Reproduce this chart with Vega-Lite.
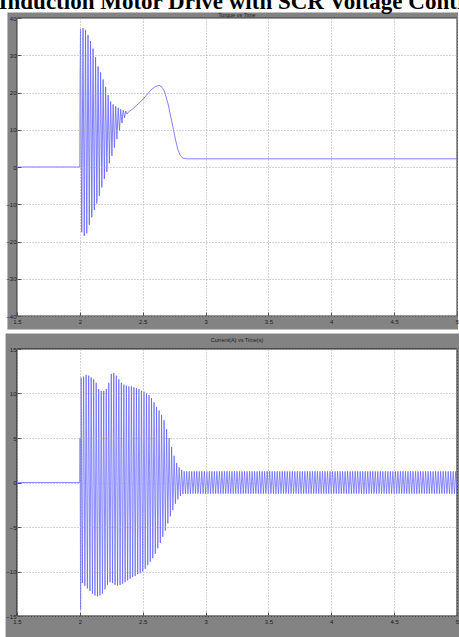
{
"$schema": "https://vega.github.io/schema/vega-lite/v6.json",
"background": "white",
"padding": {"left": -2, "top": -10, "right": 0, "bottom": 0},
"title": {"text": "Induction Motor Drive with SCR Voltage Control", "font": "Liberation Serif", "fontWeight": "bold", "fontSize": 23, "color": "#000000", "anchor": "start", "baseline": "alphabetic", "offset": 3, "dx": -7, "dy": 22.5},
"spacing": 33,
"bounds": "flush",
"config": {
  "view": {"stroke": null},
  "axis": {"labelFont": "Liberation Sans", "labelFontSize": 6, "labelColor": "#1e1e1e", "gridColor": "#a8a8a8", "gridDash": [1, 2], "gridWidth": 1, "tickColor": "#555555", "domain": false, "labelFlush": false, "title": null},
  "title": {"font": "Liberation Sans", "fontWeight": "normal", "fontSize": 5.5, "color": "#222222"}
},
"vconcat": [
{
  "width": 440, "height": 298,
  "title": {"text": "Torque vs Time", "offset": -3.5, "dy": 6.5, "baseline": "alphabetic", "anchor": "middle", "frame": "group"},
  "encoding": {
    "x": {"field": "t", "type": "quantitative", "scale": {"domain": [1.5, 5], "nice": false, "zero": false},
          "axis": {"values": [1.5, 2, 2.5, 3, 3.5, 4, 4.5, 5], "format": "~g", "grid": true, "tickSize": -4, "labelPadding": 6, "zindex": 1}},
    "y": {"field": "v", "type": "quantitative", "scale": {"domain": [-40, 40], "nice": false, "zero": false},
          "axis": {"values": [-40, -30, -20, -10, 0, 10, 20, 30, 40], "format": "d", "grid": true, "tickSize": -4, "labelPadding": 5, "zindex": 1}}
  },
  "layer": [
    {"data": {"values": [{"t": 1.424, "t2": 5.008, "v": -43.6, "v2": 41.48}]},
     "mark": {"type": "rect", "fill": "#838383", "clip": false},
     "encoding": {"x2": {"field": "t2"}, "y2": {"field": "v2"}}},
    {"data": {"values": [{"t": 1.5, "t2": 5, "v": -40, "v2": 40}]},
     "mark": {"type": "rect", "fill": "#ffffff", "stroke": "#333333", "strokeWidth": 1},
     "encoding": {"x2": {"field": "t2"}, "y2": {"field": "v2"}}},
    {"data": {"values": [
      {"t":1.5,"v":0},{"t":2.0,"v":0},{"t":2.002,"v":24},
      {"t":2.005,"v":37},{"t":2.015,"v":-17.5},{"t":2.025,"v":37.3},{"t":2.035,"v":-18.5},
      {"t":2.045,"v":36.8},{"t":2.055,"v":-17.8},{"t":2.065,"v":35.4},{"t":2.075,"v":-15.5},
      {"t":2.085,"v":33.8},{"t":2.095,"v":-13.5},{"t":2.105,"v":31.8},{"t":2.115,"v":-11.5},
      {"t":2.125,"v":29.5},{"t":2.135,"v":-9.8},{"t":2.145,"v":27},{"t":2.155,"v":-7.8},
      {"t":2.165,"v":25.4},{"t":2.175,"v":-5.5},{"t":2.185,"v":23.5},{"t":2.195,"v":-3.2},
      {"t":2.205,"v":21.5},{"t":2.215,"v":-1.3},{"t":2.225,"v":19.3},{"t":2.235,"v":1},
      {"t":2.245,"v":17.6},{"t":2.255,"v":3},{"t":2.265,"v":16.8},{"t":2.275,"v":5.2},
      {"t":2.285,"v":16.3},{"t":2.295,"v":7.5},{"t":2.305,"v":15.9},{"t":2.315,"v":9.8},
      {"t":2.325,"v":15.5},{"t":2.335,"v":11.8},{"t":2.345,"v":15.2},{"t":2.355,"v":13.2},
      {"t":2.365,"v":15},{"t":2.375,"v":14.2},
      {"t":2.39,"v":14.9},{"t":2.42,"v":15.6},{"t":2.45,"v":16.5},{"t":2.48,"v":17.4},
      {"t":2.51,"v":18.5},{"t":2.54,"v":19.7},{"t":2.57,"v":20.8},{"t":2.6,"v":21.6},
      {"t":2.63,"v":21.9},{"t":2.65,"v":21.6},{"t":2.67,"v":20.5},{"t":2.7,"v":17.2},
      {"t":2.72,"v":14},{"t":2.74,"v":10.8},{"t":2.76,"v":7.5},{"t":2.78,"v":4.6},
      {"t":2.8,"v":3},{"t":2.82,"v":2.4},{"t":2.85,"v":2.2},{"t":5.0,"v":2.2}
    ]},
     "mark": {"type": "line", "stroke": "#6262ff", "strokeWidth": 0.8, "clip": true}}
  ]
},
{
  "width": 440, "height": 267,
  "title": {"text": "Current(A) vs Time(s)", "offset": -7, "dy": 7, "baseline": "alphabetic", "anchor": "middle", "frame": "group"},
  "encoding": {
    "x": {"field": "t", "type": "quantitative", "scale": {"domain": [1.5, 5], "nice": false, "zero": false},
          "axis": {"values": [1.5, 2, 2.5, 3, 3.5, 4, 4.5, 5], "format": "~g", "grid": true, "tickSize": -4, "labelPadding": 6, "zindex": 1}},
    "y": {"field": "i", "type": "quantitative", "scale": {"domain": [-15, 15], "nice": false, "zero": false},
          "axis": {"values": [-15, -10, -5, 0, 5, 10, 15], "format": "d", "grid": true, "tickSize": -4, "labelPadding": 5, "zindex": 1}}
  },
  "layer": [
    {"data": {"values": [{"t": 1.409, "t2": 5.03, "i": -17.42, "i2": 16.74}]},
     "mark": {"type": "rect", "fill": "#838383", "clip": false},
     "encoding": {"x2": {"field": "t2"}, "y2": {"field": "i2"}}},
    {"data": {"values": [{"t": 1.5, "t2": 5, "i": -15, "i2": 15}]},
     "mark": {"type": "rect", "fill": "#ffffff", "stroke": "#111111", "strokeWidth": 1},
     "encoding": {"x2": {"field": "t2"}, "y2": {"field": "i2"}}},
    {"data": {"values": [
      {"t":1.5,"i":0},{"t":2.0,"i":0},{"t":2.002,"i":5},{"t":2.006,"i":-14.3},
      {"t":2.01,"i":11.8},{"t":2.02,"i":-11.3},{"t":2.03,"i":11.9},{"t":2.04,"i":-11.6},{"t":2.05,"i":12.1},{"t":2.06,"i":-11.9},{"t":2.07,"i":12.0},{"t":2.08,"i":-12.2},{"t":2.09,"i":11.8},{"t":2.1,"i":-12.5},
      {"t":2.11,"i":11.6},{"t":2.12,"i":-12.7},{"t":2.13,"i":11.2},{"t":2.14,"i":-12.8},{"t":2.15,"i":10.5},{"t":2.16,"i":-12.7},{"t":2.17,"i":10.3},{"t":2.18,"i":-12.5},{"t":2.19,"i":10.3},{"t":2.2,"i":-12.0},
      {"t":2.21,"i":10.5},{"t":2.22,"i":-11.5},{"t":2.23,"i":11.2},{"t":2.24,"i":-11.2},{"t":2.25,"i":12.2},{"t":2.26,"i":-11.3},{"t":2.27,"i":12.3},{"t":2.28,"i":-11.5},{"t":2.29,"i":12.0},{"t":2.3,"i":-11.6},
      {"t":2.31,"i":11.6},{"t":2.32,"i":-11.5},{"t":2.33,"i":11.2},{"t":2.34,"i":-11.4},{"t":2.35,"i":11.0},{"t":2.36,"i":-11.2},{"t":2.37,"i":10.9},{"t":2.38,"i":-11.0},{"t":2.39,"i":10.8},{"t":2.4,"i":-10.8},
      {"t":2.41,"i":10.8},{"t":2.42,"i":-10.6},{"t":2.43,"i":10.7},{"t":2.44,"i":-10.5},{"t":2.45,"i":10.6},{"t":2.46,"i":-10.3},{"t":2.47,"i":10.5},{"t":2.48,"i":-10.2},{"t":2.49,"i":10.3},{"t":2.5,"i":-10.0},
      {"t":2.51,"i":10.2},{"t":2.52,"i":-9.7},{"t":2.53,"i":10.0},{"t":2.54,"i":-9.3},{"t":2.55,"i":9.8},{"t":2.56,"i":-8.9},{"t":2.57,"i":9.5},{"t":2.58,"i":-8.5},{"t":2.59,"i":9.0},{"t":2.6,"i":-8.0},
      {"t":2.61,"i":8.5},{"t":2.62,"i":-7.4},{"t":2.63,"i":8.1},{"t":2.64,"i":-6.8},{"t":2.65,"i":7.6},{"t":2.66,"i":-6.1},{"t":2.67,"i":7.0},{"t":2.68,"i":-5.4},{"t":2.69,"i":6.0},{"t":2.7,"i":-4.6},
      {"t":2.71,"i":5.0},{"t":2.72,"i":-3.8},{"t":2.73,"i":4.0},{"t":2.74,"i":-3.1},{"t":2.75,"i":3.0},{"t":2.76,"i":-2.4},{"t":2.77,"i":2.2},{"t":2.78,"i":-1.9},{"t":2.79,"i":1.7},{"t":2.8,"i":-1.5},
      {"t":2.81,"i":1.4},{"t":2.82,"i":-1.3},{"t":2.83,"i":1.25},{"t":2.84,"i":-1.25},{"t":2.85,"i":1.25},{"t":2.86,"i":-1.25},{"t":2.87,"i":1.25},{"t":2.88,"i":-1.25},{"t":2.89,"i":1.25},{"t":2.9,"i":-1.25},
      {"t":2.91,"i":1.25},{"t":2.92,"i":-1.25},{"t":2.93,"i":1.25},{"t":2.94,"i":-1.25},{"t":2.95,"i":1.25},{"t":2.96,"i":-1.25},{"t":2.97,"i":1.25},{"t":2.98,"i":-1.25},{"t":2.99,"i":1.25},{"t":3.0,"i":-1.25},
      {"t":3.01,"i":1.25},{"t":3.02,"i":-1.25},{"t":3.03,"i":1.25},{"t":3.04,"i":-1.25},{"t":3.05,"i":1.25},{"t":3.06,"i":-1.25},{"t":3.07,"i":1.25},{"t":3.08,"i":-1.25},{"t":3.09,"i":1.25},{"t":3.1,"i":-1.25},
      {"t":3.11,"i":1.25},{"t":3.12,"i":-1.25},{"t":3.13,"i":1.25},{"t":3.14,"i":-1.25},{"t":3.15,"i":1.25},{"t":3.16,"i":-1.25},{"t":3.17,"i":1.25},{"t":3.18,"i":-1.25},{"t":3.19,"i":1.25},{"t":3.2,"i":-1.25},
      {"t":3.21,"i":1.25},{"t":3.22,"i":-1.25},{"t":3.23,"i":1.25},{"t":3.24,"i":-1.25},{"t":3.25,"i":1.25},{"t":3.26,"i":-1.25},{"t":3.27,"i":1.25},{"t":3.28,"i":-1.25},{"t":3.29,"i":1.25},{"t":3.3,"i":-1.25},
      {"t":3.31,"i":1.25},{"t":3.32,"i":-1.25},{"t":3.33,"i":1.25},{"t":3.34,"i":-1.25},{"t":3.35,"i":1.25},{"t":3.36,"i":-1.25},{"t":3.37,"i":1.25},{"t":3.38,"i":-1.25},{"t":3.39,"i":1.25},{"t":3.4,"i":-1.25},
      {"t":3.41,"i":1.25},{"t":3.42,"i":-1.25},{"t":3.43,"i":1.25},{"t":3.44,"i":-1.25},{"t":3.45,"i":1.25},{"t":3.46,"i":-1.25},{"t":3.47,"i":1.25},{"t":3.48,"i":-1.25},{"t":3.49,"i":1.25},{"t":3.5,"i":-1.25},
      {"t":3.51,"i":1.25},{"t":3.52,"i":-1.25},{"t":3.53,"i":1.25},{"t":3.54,"i":-1.25},{"t":3.55,"i":1.25},{"t":3.56,"i":-1.25},{"t":3.57,"i":1.25},{"t":3.58,"i":-1.25},{"t":3.59,"i":1.25},{"t":3.6,"i":-1.25},
      {"t":3.61,"i":1.25},{"t":3.62,"i":-1.25},{"t":3.63,"i":1.25},{"t":3.64,"i":-1.25},{"t":3.65,"i":1.25},{"t":3.66,"i":-1.25},{"t":3.67,"i":1.25},{"t":3.68,"i":-1.25},{"t":3.69,"i":1.25},{"t":3.7,"i":-1.25},
      {"t":3.71,"i":1.25},{"t":3.72,"i":-1.25},{"t":3.73,"i":1.25},{"t":3.74,"i":-1.25},{"t":3.75,"i":1.25},{"t":3.76,"i":-1.25},{"t":3.77,"i":1.25},{"t":3.78,"i":-1.25},{"t":3.79,"i":1.25},{"t":3.8,"i":-1.25},
      {"t":3.81,"i":1.25},{"t":3.82,"i":-1.25},{"t":3.83,"i":1.25},{"t":3.84,"i":-1.25},{"t":3.85,"i":1.25},{"t":3.86,"i":-1.25},{"t":3.87,"i":1.25},{"t":3.88,"i":-1.25},{"t":3.89,"i":1.25},{"t":3.9,"i":-1.25},
      {"t":3.91,"i":1.25},{"t":3.92,"i":-1.25},{"t":3.93,"i":1.25},{"t":3.94,"i":-1.25},{"t":3.95,"i":1.25},{"t":3.96,"i":-1.25},{"t":3.97,"i":1.25},{"t":3.98,"i":-1.25},{"t":3.99,"i":1.25},{"t":4.0,"i":-1.25},
      {"t":4.01,"i":1.25},{"t":4.02,"i":-1.25},{"t":4.03,"i":1.25},{"t":4.04,"i":-1.25},{"t":4.05,"i":1.25},{"t":4.06,"i":-1.25},{"t":4.07,"i":1.25},{"t":4.08,"i":-1.25},{"t":4.09,"i":1.25},{"t":4.1,"i":-1.25},
      {"t":4.11,"i":1.25},{"t":4.12,"i":-1.25},{"t":4.13,"i":1.25},{"t":4.14,"i":-1.25},{"t":4.15,"i":1.25},{"t":4.16,"i":-1.25},{"t":4.17,"i":1.25},{"t":4.18,"i":-1.25},{"t":4.19,"i":1.25},{"t":4.2,"i":-1.25},
      {"t":4.21,"i":1.25},{"t":4.22,"i":-1.25},{"t":4.23,"i":1.25},{"t":4.24,"i":-1.25},{"t":4.25,"i":1.25},{"t":4.26,"i":-1.25},{"t":4.27,"i":1.25},{"t":4.28,"i":-1.25},{"t":4.29,"i":1.25},{"t":4.3,"i":-1.25},
      {"t":4.31,"i":1.25},{"t":4.32,"i":-1.25},{"t":4.33,"i":1.25},{"t":4.34,"i":-1.25},{"t":4.35,"i":1.25},{"t":4.36,"i":-1.25},{"t":4.37,"i":1.25},{"t":4.38,"i":-1.25},{"t":4.39,"i":1.25},{"t":4.4,"i":-1.25},
      {"t":4.41,"i":1.25},{"t":4.42,"i":-1.25},{"t":4.43,"i":1.25},{"t":4.44,"i":-1.25},{"t":4.45,"i":1.25},{"t":4.46,"i":-1.25},{"t":4.47,"i":1.25},{"t":4.48,"i":-1.25},{"t":4.49,"i":1.25},{"t":4.5,"i":-1.25},
      {"t":4.51,"i":1.25},{"t":4.52,"i":-1.25},{"t":4.53,"i":1.25},{"t":4.54,"i":-1.25},{"t":4.55,"i":1.25},{"t":4.56,"i":-1.25},{"t":4.57,"i":1.25},{"t":4.58,"i":-1.25},{"t":4.59,"i":1.25},{"t":4.6,"i":-1.25},
      {"t":4.61,"i":1.25},{"t":4.62,"i":-1.25},{"t":4.63,"i":1.25},{"t":4.64,"i":-1.25},{"t":4.65,"i":1.25},{"t":4.66,"i":-1.25},{"t":4.67,"i":1.25},{"t":4.68,"i":-1.25},{"t":4.69,"i":1.25},{"t":4.7,"i":-1.25},
      {"t":4.71,"i":1.25},{"t":4.72,"i":-1.25},{"t":4.73,"i":1.25},{"t":4.74,"i":-1.25},{"t":4.75,"i":1.25},{"t":4.76,"i":-1.25},{"t":4.77,"i":1.25},{"t":4.78,"i":-1.25},{"t":4.79,"i":1.25},{"t":4.8,"i":-1.25},
      {"t":4.81,"i":1.25},{"t":4.82,"i":-1.25},{"t":4.83,"i":1.25},{"t":4.84,"i":-1.25},{"t":4.85,"i":1.25},{"t":4.86,"i":-1.25},{"t":4.87,"i":1.25},{"t":4.88,"i":-1.25},{"t":4.89,"i":1.25},{"t":4.9,"i":-1.25},
      {"t":4.91,"i":1.25},{"t":4.92,"i":-1.25},{"t":4.93,"i":1.25},{"t":4.94,"i":-1.25},{"t":4.95,"i":1.25},{"t":4.96,"i":-1.25},{"t":4.97,"i":1.25},{"t":4.98,"i":-1.25},{"t":4.99,"i":1.25},{"t":5.0,"i":-1.25}
    ]},
     "mark": {"type": "line", "stroke": "#5a5aff", "strokeWidth": 0.7, "clip": true}}
  ]
}
]
}
